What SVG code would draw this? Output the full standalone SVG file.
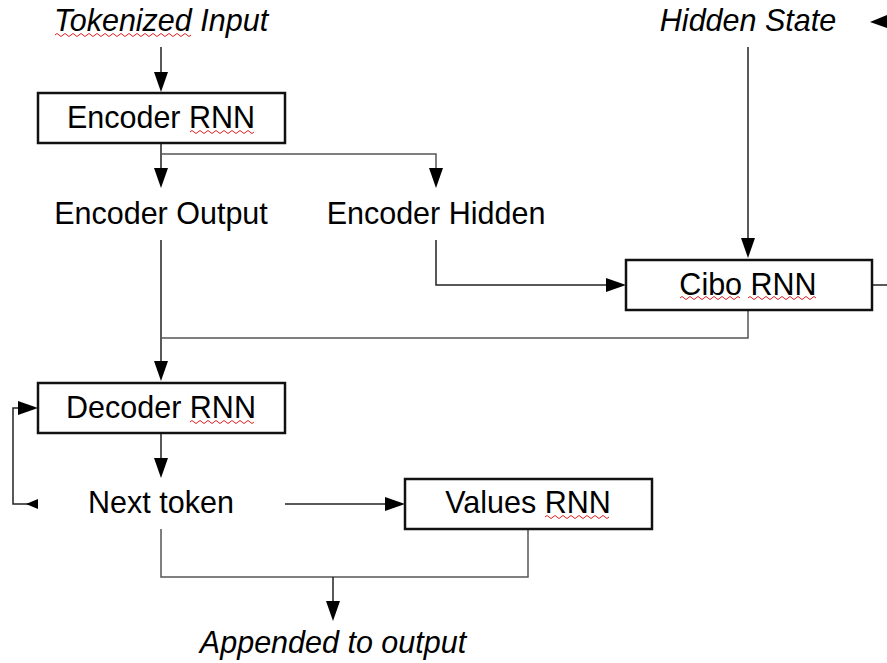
<svg xmlns="http://www.w3.org/2000/svg" width="887" height="663" viewBox="0 0 887 663">
<style>
  .box { fill: #fff; stroke: #111; stroke-width: 2.5; }
  .t { font-family: "Liberation Sans", Arial, sans-serif; font-size: 30.5px; fill: #000; text-anchor: middle; }
  .i { font-style: italic; }
  .c { fill: none; stroke: #222; stroke-width: 1.5; }
  .g { fill: none; stroke: #555; stroke-width: 1.5; }
  .h { fill: #000; stroke: none; }
  .sq { fill: none; stroke: #e02020; stroke-width: 1; }
</style>
<rect width="887" height="663" fill="#fff"/>
<g id="connectors">
  <path class="c" d="M161,47 V74"/>
  <polygon class="h" points="154,72 168,72 161,92"/>
  <path class="c" d="M161,143 V170"/>
  <polygon class="h" points="154,168 168,168 161,188"/>
  <path class="g" d="M161,154 H436 V170"/>
  <polygon class="h" points="429,168 443,168 436,188"/>
  <path class="c" d="M748,47 V240"/>
  <polygon class="h" points="741,238 755,238 748,258"/>
  <polygon class="h" points="887,15 887,28 870,22"/>
  <path class="c" d="M872,285 H887"/>
  <path class="c" d="M436,240 V285 H608"/>
  <polygon class="h" points="606,278 606,292 626,285"/>
  <path class="c" d="M161,240 V363"/>
  <polygon class="h" points="154,361 168,361 161,381"/>
  <path class="g" d="M748,310 V338 H161"/>
  <path class="c" d="M161,433 V460"/>
  <polygon class="h" points="154,458 168,458 161,478"/>
  <path class="c" d="M38,504 H13 V408 H20"/>
  <polygon class="h" points="18,401 18,415 38,408"/>
  <polygon class="h" points="38,499 38,509 26,504"/>
  <path class="c" d="M285,504 H387"/>
  <polygon class="h" points="385,497 385,511 405,504"/>
  <path class="g" d="M528,529 V577 H161 V529"/>
  <path class="c" d="M333,577 V603"/>
  <polygon class="h" points="326,601 340,601 333,621"/>
</g>
<g id="tokenized-input">
  <text class="t i" x="161" y="31">Tokenized Input</text>
  <path class="sq" d="M55,35 q2,-3 4,0 t4,0 t4,0 t4,0 t4,0 t4,0 t4,0 t4,0 t4,0 t4,0 t4,0 t4,0 t4,0 t4,0 t4,0 t4,0 t4,0 t4,0 t4,0 t4,0 t4,0 t4,0 t4,0 t4,0 t4,0 t4,0 t4,0 t4,0 t4,0 t4,0 t4,0 t4,0 t4,0 t4,0"/>
</g>
<g id="encoder-rnn">
  <rect class="box" x="38" y="93" width="247" height="50"/>
  <text class="t" x="161" y="128">Encoder RNN</text>
  <path class="sq" d="M190,132 q2,-3 4,0 t4,0 t4,0 t4,0 t4,0 t4,0 t4,0 t4,0 t4,0 t4,0 t4,0 t4,0 t4,0 t4,0 t4,0 t4,0"/>
</g>
<g id="encoder-output">
  <text class="t" x="161" y="224">Encoder Output</text>
</g>
<g id="encoder-hidden">
  <text class="t" x="436" y="224">Encoder Hidden</text>
</g>
<g id="hidden-state">
  <text class="t i" x="748" y="31">Hidden State</text>
</g>
<g id="cibo-rnn">
  <rect class="box" x="626" y="260" width="246" height="50"/>
  <text class="t" x="748" y="295">Cibo RNN</text>
  <path class="sq" d="M680,298 q2,-3 4,0 t4,0 t4,0 t4,0 t4,0 t4,0 t4,0 t4,0 t4,0 t4,0 t4,0 t4,0 t4,0 t4,0 t4,0"/>
  <path class="sq" d="M748,298 q2,-3 4,0 t4,0 t4,0 t4,0 t4,0 t4,0 t4,0 t4,0 t4,0 t4,0 t4,0 t4,0 t4,0 t4,0 t4,0 t4,0 t4,0"/>
</g>
<g id="decoder-rnn">
  <rect class="box" x="38" y="383" width="247" height="50"/>
  <text class="t" x="161" y="418">Decoder RNN</text>
  <path class="sq" d="M190,422 q2,-3 4,0 t4,0 t4,0 t4,0 t4,0 t4,0 t4,0 t4,0 t4,0 t4,0 t4,0 t4,0 t4,0 t4,0 t4,0 t4,0"/>
</g>
<g id="next-token">
  <text class="t" x="161" y="513">Next token</text>
</g>
<g id="values-rnn">
  <rect class="box" x="405" y="479" width="247" height="50"/>
  <text class="t" x="528" y="513">Values RNN</text>
  <path class="sq" d="M545,517 q2,-3 4,0 t4,0 t4,0 t4,0 t4,0 t4,0 t4,0 t4,0 t4,0 t4,0 t4,0 t4,0 t4,0 t4,0 t4,0 t4,0"/>
</g>
<g id="appended-to-output">
  <text class="t i" x="333" y="653">Appended to output</text>
</g>
</svg>
